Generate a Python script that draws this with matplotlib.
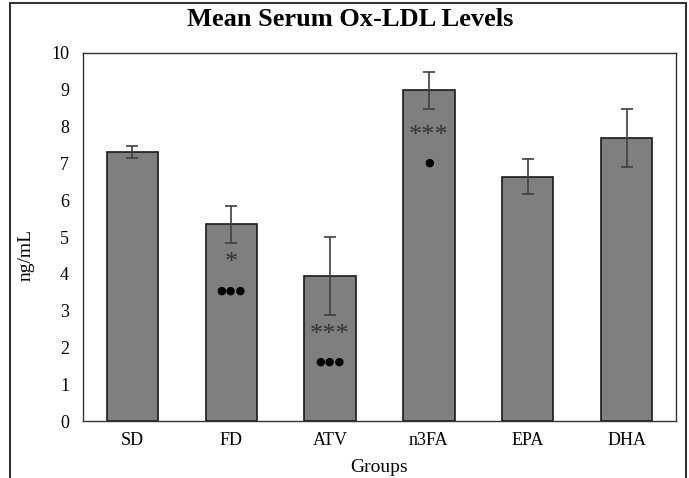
import matplotlib.pyplot as plt
from matplotlib.patches import Rectangle

# Data
groups = ["SD", "FD", "ATV", "n3FA", "EPA", "DHA"]
means = [7.31, 5.34, 3.94, 8.99, 6.64, 7.69]
errors = [0.15, 0.51, 1.07, 0.50, 0.48, 0.78]

# Significance marks: (group index, text, y value)
star_marks = [(1, "*", 4.3), (2, "***", 2.35), (3, "***", 7.75)]
dot_marks = [(1, "\u25CF\u25CF\u25CF", 3.55), (2, "\u25CF\u25CF\u25CF", 1.6), (3, "\u25CF", 7.02)]

BAR_COLOR = "#7f7f7f"
EDGE_COLOR = "#1a1a1a"
ERR_COLOR = "#404040"

plt.rcParams["font.family"] = ["Liberation Serif", "DejaVu Serif"]

fig = plt.figure(figsize=(6.89, 4.78), dpi=100)
ax = fig.add_axes([83 / 689, 1 - 421 / 478, (676 - 83) / 689, (421 - 53) / 478])

x = range(len(groups))
ax.bar(x, means, width=0.52, color=BAR_COLOR, edgecolor=EDGE_COLOR, linewidth=1.2,
       yerr=errors, error_kw=dict(ecolor=ERR_COLOR, elinewidth=1.2, capsize=4, capthick=1.2))

for i, txt, y in star_marks:
    ax.text(i, y, txt, ha="center", va="center", fontsize=19, color="#333333")
for i, txt, y in dot_marks:
    ax.text(i, y, txt, ha="center", va="center", fontsize=8, color="black",
            family=["DejaVu Sans"])

ax.set_xlim(-0.5, len(groups) - 0.5)
ax.set_ylim(0, 10)
ax.set_yticks(range(0, 11))
ax.set_xticks(list(x))
ax.set_xticklabels(groups)
ax.tick_params(axis="both", length=0, labelsize=13)
ax.tick_params(axis="y", pad=10)
ax.tick_params(axis="x", pad=8)
for sp in ax.spines.values():
    sp.set_color("#333333")
    sp.set_linewidth(1.0)

ax.set_xlabel("Groups", fontsize=14, labelpad=7)
ax.set_ylabel("ng/mL", fontsize=14)
ax.yaxis.set_label_coords(-0.082, 0.45)
fig.text(0.508, 1 - 19 / 478, "Mean Serum Ox-LDL Levels", ha="center", va="center",
         fontsize=19, fontweight="bold")

# outer frame around the whole figure (bottom edge off-image)
fig.patches.append(Rectangle((10 / 689, -0.05), (686 - 10) / 689, 1.05 - 3 / 478,
                             transform=fig.transFigure, fill=False,
                             edgecolor="#333333", linewidth=1.5))

fig.savefig("out.png", dpi=100)
plt.close(fig)
